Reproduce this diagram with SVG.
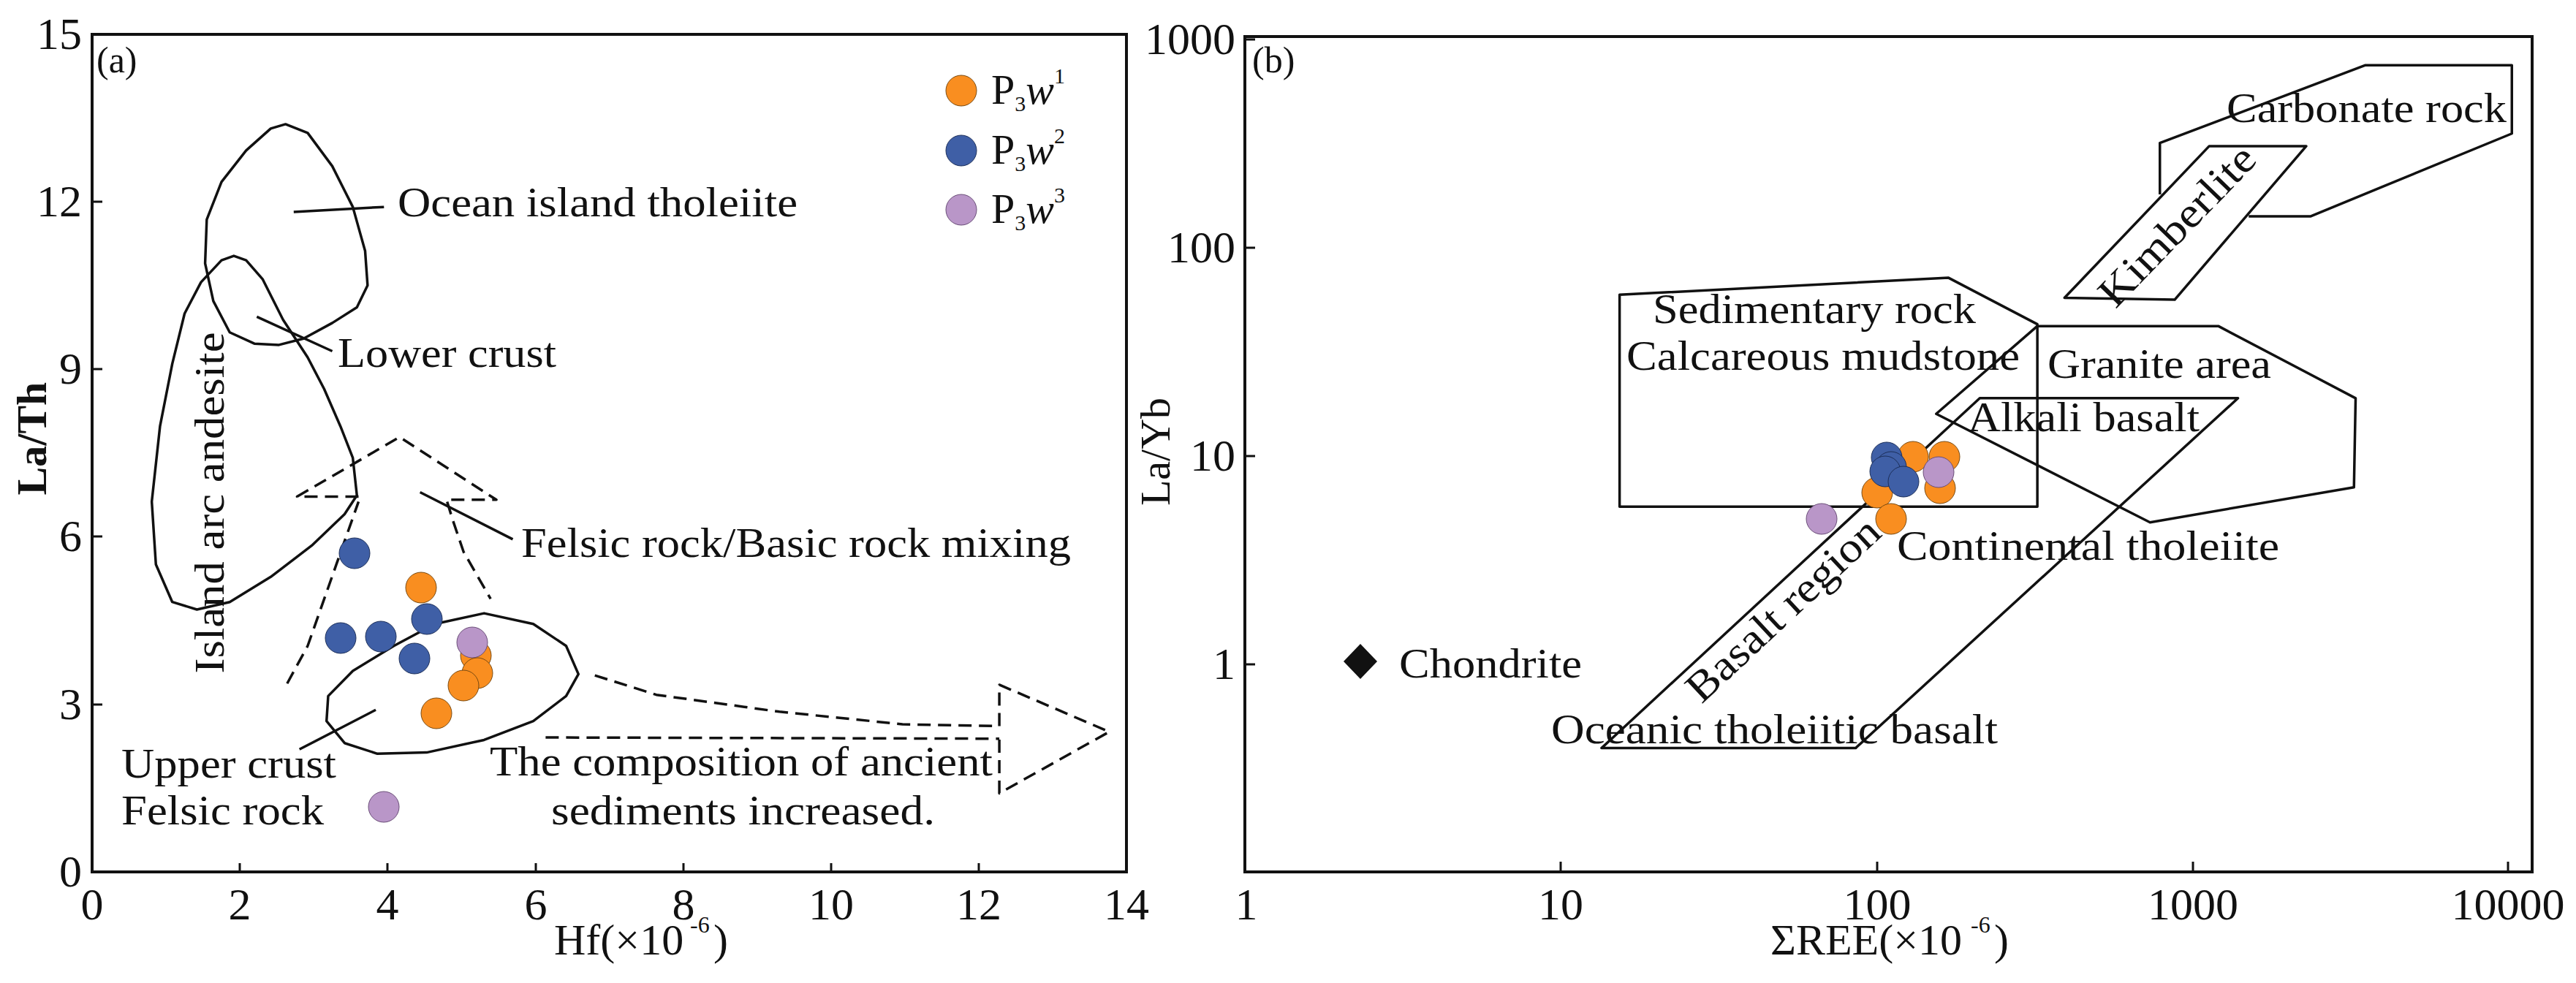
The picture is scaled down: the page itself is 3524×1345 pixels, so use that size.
<svg xmlns="http://www.w3.org/2000/svg" width="3524" height="1345" viewBox="0 0 3524 1345" font-size="58">
<style>
text{font-family:"Liberation Serif",serif;fill:#111}
.ln{fill:none;stroke:#111;stroke-width:3.5;vector-effect:non-scaling-stroke;stroke-linejoin:round}
.ds{stroke-dasharray:18 10}
.fr{fill:none;stroke:#111;stroke-width:4}
.o{fill:#f98e20;stroke:#7a4a10;stroke-width:1}
.b{fill:#3f5fa6;stroke:#1c2f5a;stroke-width:1}
.p{fill:#b996c8;stroke:#6a4d78;stroke-width:1}
.r{text-anchor:end}.m{text-anchor:middle}
</style>
<rect width="3524" height="1345" fill="#fff"/>
<g id="panel-a-frame">
<rect class="fr" x="126" y="47" width="1415" height="1146"/>
<path d="M126,47h14M126,276h14M126,505h14M126,734h14M126,964h14M328,1193v-12M530,1193v-12M733,1193v-12M935,1193v-12M1137,1193v-12M1339,1193v-12" stroke="#111" stroke-width="3"/>
<g class="r" font-size="62"><text x="112" y="67">15</text><text x="112" y="296">12</text><text x="112" y="525">9</text><text x="112" y="754">6</text><text x="112" y="984">3</text><text x="112" y="1213">0</text></g>
<g class="m" font-size="62"><text x="126" y="1258">0</text><text x="328" y="1258">2</text><text x="530" y="1258">4</text><text x="733" y="1258">6</text><text x="935" y="1258">8</text><text x="1137" y="1258">10</text><text x="1339" y="1258">12</text><text x="1541" y="1258">14</text></g>
<text x="758" y="1306" font-size="60">Hf(×10</text><text x="944" y="1276" font-size="32">-6</text><text x="976" y="1306" font-size="60">)</text>
<text transform="translate(63,600) rotate(-90)" class="m" font-weight="bold" font-size="58">La/Th</text>
<text x="132" y="99" font-size="50">(a)</text>
</g>
<g id="panel-a-fields" transform="matrix(1.1224 0 0 0.858 0 0)">
<path class="ln" d="M348,198 L375,212 405,265 430,330 445,400 448,455 435,490 405,515 370,540 340,550 310,548 280,530 260,480 250,420 252,350 270,290 300,240 330,205Z"/>
<path class="ln" d="M285,408 L300,415 320,445 345,510 375,570 395,620 415,680 430,730 435,790 420,820 380,870 330,920 280,960 240,972 210,960 190,900 185,800 195,680 210,580 225,500 245,450 270,415Z"/>
<path class="ln" d="M590,978 L650,995 690,1030 705,1075 690,1110 650,1150 590,1180 520,1200 460,1202 420,1185 398,1150 400,1110 430,1070 480,1030 530,995Z"/>
<path class="ln" d="M358,338L468,330M313,505L405,560M512,785L625,860M458,1132L365,1195"/>
<path class="ln ds" d="M350,1090L375,1030 410,900 437,800M437,792L362,792 487,697 605,797 545,797M545,800L552,830 565,880 598,955"/>
<path class="ln ds" d="M725,1077L800,1108 950,1135 1100,1155 1218,1158M1218,1158L1218,1092 1352,1167 1218,1265 1218,1178M665,1176L1218,1178"/>
</g>
<g id="panel-a-labels">
<text x="544" y="296" textLength="547" lengthAdjust="spacingAndGlyphs">Ocean island tholeiite</text>
<text x="462" y="502" textLength="299" lengthAdjust="spacingAndGlyphs">Lower crust</text>
<text transform="translate(306,688) rotate(-90)" class="m" textLength="467" lengthAdjust="spacingAndGlyphs">Island arc andesite</text>
<text x="713" y="762" textLength="752" lengthAdjust="spacingAndGlyphs">Felsic rock/Basic rock mixing</text>
<text x="166" y="1064" textLength="294" lengthAdjust="spacingAndGlyphs">Upper crust</text>
<text x="166" y="1128" textLength="277" lengthAdjust="spacingAndGlyphs">Felsic rock</text>
<text x="670" y="1061" textLength="688" lengthAdjust="spacingAndGlyphs">The composition of ancient</text>
<text x="754" y="1128" textLength="525" lengthAdjust="spacingAndGlyphs">sediments increased.</text>
</g>
<g id="panel-a-points">
<circle class="b" cx="485" cy="757" r="21"/><circle class="o" cx="576" cy="804" r="21"/><circle class="b" cx="584" cy="847" r="21"/>
<circle class="b" cx="466" cy="873" r="21"/><circle class="b" cx="521" cy="871" r="21"/><circle class="b" cx="567" cy="901" r="21"/>
<circle class="o" cx="651" cy="897" r="21"/><circle class="p" cx="646" cy="879" r="21"/><circle class="o" cx="653" cy="921" r="21"/>
<circle class="o" cx="634" cy="938" r="21"/><circle class="o" cx="597" cy="976" r="21"/><circle class="p" cx="525" cy="1104" r="21"/>
</g>
<g id="legend">
<circle class="o" cx="1315" cy="124" r="21"/><circle class="b" cx="1315" cy="206" r="21"/><circle class="p" cx="1315" cy="287" r="21"/>
<text x="1356" y="142">P<tspan font-size="30" dy="10">3</tspan><tspan font-style="italic" dy="-10">w</tspan><tspan font-size="30" dy="-28">1</tspan></text>
<text x="1356" y="224">P<tspan font-size="30" dy="10">3</tspan><tspan font-style="italic" dy="-10">w</tspan><tspan font-size="30" dy="-28">2</tspan></text>
<text x="1356" y="305">P<tspan font-size="30" dy="10">3</tspan><tspan font-style="italic" dy="-10">w</tspan><tspan font-size="30" dy="-28">3</tspan></text>
</g>
<g id="panel-b-frame">
<rect class="fr" x="1703" y="50" width="1761" height="1143"/>
<path d="M2135,1193v-14M2568,1193v-14M3000,1193v-14M3431,1193v-14M1703,54h14M1703,339h14M1703,624h14M1703,909h14" stroke="#111" stroke-width="3"/>
<g class="r" font-size="62"><text x="1690" y="74">1000</text><text x="1690" y="359">100</text><text x="1690" y="644">10</text><text x="1690" y="929">1</text></g>
<g class="m" font-size="62"><text x="1705" y="1258">1</text><text x="2135" y="1258">10</text><text x="2568" y="1258">100</text><text x="3000" y="1258">1000</text><text x="3431" y="1258">10000</text></g>
<text x="2422" y="1306" font-size="60">ΣREE(×10</text><text x="2696" y="1276" font-size="32">-6</text><text x="2728" y="1306" font-size="60">)</text>
<text transform="translate(1600,618) rotate(-90)" class="m">La/Yb</text>
<text x="1713" y="99" font-size="50">(b)</text>
</g>
<g id="panel-b-fields" transform="matrix(1.125 0 0 0.858 1760 0)">
<path class="ln" d="M1062,310L1062,228 1312,104 1490,104 1490,213 1245,345 1170,345"/>
<path class="ln" d="M1122,233L1240,233 1080,478 946,475Z"/>
<path class="ln" d="M405,470L805,443 913,517 913,808 405,808Z"/>
<path class="ln" d="M913,520L1133,520 1300,635 1298,777 1050,833 790,660Z"/>
<path class="ln" d="M383,1193L843,635 1157,635 692,1193Z"/>
</g>
<g id="panel-b-labels">
<text x="3046" y="167" textLength="383" lengthAdjust="spacingAndGlyphs">Carbonate rock</text>
<text transform="translate(2992,322) rotate(-46)" class="m" textLength="282" lengthAdjust="spacingAndGlyphs">Kimberlite</text>
<text x="2261" y="442" textLength="442" lengthAdjust="spacingAndGlyphs">Sedimentary rock</text>
<text x="2225" y="506" textLength="538" lengthAdjust="spacingAndGlyphs">Calcareous mudstone</text>
<text x="2801" y="517" textLength="306" lengthAdjust="spacingAndGlyphs">Granite area</text>
<text x="2692" y="590" textLength="317" lengthAdjust="spacingAndGlyphs">Alkali basalt</text>
<text x="2595" y="766" textLength="523" lengthAdjust="spacingAndGlyphs">Continental tholeiite</text>
<text transform="translate(2452,848) rotate(-43)" class="m" textLength="340" lengthAdjust="spacingAndGlyphs">Basalt region</text>
<text x="2122" y="1017" textLength="611" lengthAdjust="spacingAndGlyphs">Oceanic tholeiitic basalt</text>
<text x="1914" y="927" textLength="250" lengthAdjust="spacingAndGlyphs">Chondrite</text>
</g>
<g id="panel-b-points">
<path d="M1861,881L1884,905 1861,929 1838,905Z" fill="#111"/>
<circle class="o" cx="2617" cy="625" r="21"/><circle class="o" cx="2660" cy="625" r="21"/><circle class="o" cx="2568" cy="674" r="21"/>
<circle class="o" cx="2654" cy="668" r="21"/><circle class="o" cx="2587" cy="710" r="21"/>
<circle class="b" cx="2581" cy="626" r="21"/><circle class="b" cx="2587" cy="639" r="21"/><circle class="b" cx="2579" cy="645" r="21"/><circle class="b" cx="2604" cy="659" r="21"/>
<circle class="p" cx="2652" cy="646" r="21"/><circle class="p" cx="2492" cy="710" r="21"/>
</g>
</svg>
